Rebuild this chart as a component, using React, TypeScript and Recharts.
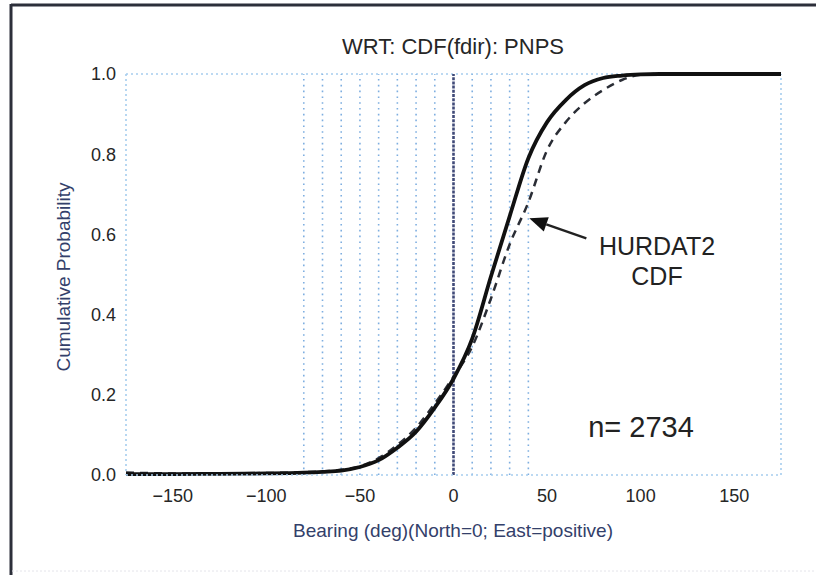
import React from "react";
import { LineChart, Line, XAxis, YAxis, ReferenceLine } from "recharts";

// Bearing samples (deg, North = 0, East = positive)
const bearings = [
  -175, -150, -125, -100, -80, -70, -60, -50, -40, -30, -20, -10, 0, 10, 20, 30,
  40, 50, 60, 70, 80, 90, 100, 110, 125, 150, 175,
];

// Empirical CDF of fdir at PNPS (solid)
const fdirCdf = [
  0.002, 0.002, 0.003, 0.004, 0.006, 0.008, 0.011, 0.02, 0.037, 0.068, 0.108,
  0.168, 0.24, 0.34, 0.495, 0.645, 0.79, 0.88, 0.935, 0.972, 0.99, 0.996, 0.999,
  1.0, 1.0, 1.0, 1.0,
];

// HURDAT2 CDF (dashed)
const hurdatCdf = [
  0.006, 0.004, 0.004, 0.005, 0.007, 0.009, 0.013, 0.022, 0.042, 0.075, 0.118,
  0.178, 0.245, 0.32, 0.44, 0.575, 0.68, 0.81, 0.88, 0.927, 0.96, 0.985, 0.998,
  1.0, 1.0, 1.0, 1.0,
];

const xTicks = [-150, -100, -50, 0, 50, 100, 150];
const yTicks = [0, 0.2, 0.4, 0.6, 0.8, 1.0];
const gridBearings = [-80, -70, -60, -50, -40, -30, -20, -10, 10, 20, 30, 40];

// Arrow from the HURDAT2 label to the dashed curve
const arrowTail = { x: 71, y: 0.59 };
const arrowHead = { x: 40.5, y: 0.64 };

const data = bearings.map((b, i) => ({
  bearing: b,
  fdir: fdirCdf[i],
  hurdat: hurdatCdf[i],
}));

const FONT = '"Liberation Sans", Arial, Helvetica, sans-serif';
const BORDER = "#a6cdee";

const ArrowShape = (props: any) => {
  const { x1, y1, x2, y2 } = props;
  const dx = x2 - x1;
  const dy = y2 - y1;
  const len = Math.sqrt(dx * dx + dy * dy) || 1;
  const ux = dx / len;
  const uy = dy / len;
  const headLen = 18;
  const headW = 7.5;
  const bx = x2 - ux * headLen;
  const by = y2 - uy * headLen;
  const px = -uy;
  const py = ux;
  return (
    <g>
      <line x1={x1} y1={y1} x2={bx} y2={by} stroke="#222" strokeWidth={2.4} />
      <polygon
        points={`${x2},${y2} ${bx + px * headW},${by + py * headW} ${bx - px * headW},${by - py * headW}`}
        fill="#111"
      />
    </g>
  );
};

export default function App() {
  return (
    <div
      style={{
        position: "absolute",
        left: 0,
        top: 0,
        width: 816,
        height: 575,
        background: "#fff",
        fontFamily: FONT,
      }}
    >
      <LineChart
        width={816}
        height={575}
        data={data}
        margin={{ top: 74, right: 35, left: 76, bottom: 60 }}
      >
        <XAxis
          dataKey="bearing"
          type="number"
          domain={[-175, 175]}
          ticks={xTicks}
          tickFormatter={(v: number) => (v < 0 ? `\u2212${Math.abs(v)}` : `${v}`)}
          tick={{ fontSize: 18, fill: "#262626", fontFamily: FONT }}
          tickLine={false}
          tickMargin={8}
          height={40}
          axisLine={{ stroke: BORDER, strokeWidth: 1.6, strokeDasharray: "2 3" }}
          allowDataOverflow
        />
        <YAxis
          type="number"
          domain={[0, 1]}
          ticks={yTicks}
          tickFormatter={(v: number) => v.toFixed(1)}
          tick={{ fontSize: 18, fill: "#262626", fontFamily: FONT }}
          tickLine={false}
          tickMargin={4}
          width={50}
          axisLine={{ stroke: BORDER, strokeWidth: 1.6, strokeDasharray: "2 3" }}
        />
        <ReferenceLine y={1} stroke={BORDER} strokeWidth={1.6} strokeDasharray="2 3" />
        <ReferenceLine x={175} stroke={BORDER} strokeWidth={1.6} strokeDasharray="2 3" />
        {gridBearings.map((g) => (
          <ReferenceLine
            key={g}
            x={g}
            stroke="#7eaee0"
            strokeWidth={1.6}
            strokeDasharray="1.6 4.2"
          />
        ))}
        <ReferenceLine x={0} stroke="#404a78" strokeWidth={2.6} strokeDasharray="3 1.2" />
        <Line
          type="monotone"
          dataKey="hurdat"
          stroke="#2a2d35"
          strokeWidth={2.5}
          strokeDasharray="8 6"
          dot={false}
          isAnimationActive={false}
        />
        <Line
          type="monotone"
          dataKey="fdir"
          stroke="#111"
          strokeWidth={3.8}
          dot={false}
          isAnimationActive={false}
        />
        <ReferenceLine
          segment={[arrowTail, arrowHead]}
          shape={ArrowShape}
          ifOverflow="visible"
        />
      </LineChart>
      <svg
        width={816}
        height={575}
        style={{ position: "absolute", left: 0, top: 0, pointerEvents: "none" }}
      >
        <line x1={11} y1={5} x2={816} y2={5} stroke="#2c2f3a" strokeWidth={3} />
        <line x1={11} y1={4} x2={11} y2={575} stroke="#2c2f3a" strokeWidth={3} />
        <line x1={12} y1={571} x2={816} y2={571} stroke="#e4e4ea" strokeWidth={1} strokeDasharray="2 2" />
        <text x={453} y={54} textAnchor="middle" fontSize={22} fill="#262626" fontFamily={FONT}>
          WRT: CDF(fdir): PNPS
        </text>
        <text
          x={0}
          y={0}
          transform="translate(70,277) rotate(-90)"
          textAnchor="middle"
          fontSize={19}
          fill="#33406a"
          fontFamily={FONT}
        >
          Cumulative Probability
        </text>
        <text x={453} y={537} textAnchor="middle" fontSize={19} fill="#33406a" fontFamily={FONT}>
          Bearing (deg)(North=0; East=positive)
        </text>
        <text x={657} y={255} textAnchor="middle" fontSize={25} fill="#222" fontFamily={FONT}>
          HURDAT2
        </text>
        <text x={657} y={285} textAnchor="middle" fontSize={25} fill="#222" fontFamily={FONT}>
          CDF
        </text>
        <text x={641} y={437} textAnchor="middle" fontSize={29} fill="#222" fontFamily={FONT}>
          n= 2734
        </text>
      </svg>
    </div>
  );
}
